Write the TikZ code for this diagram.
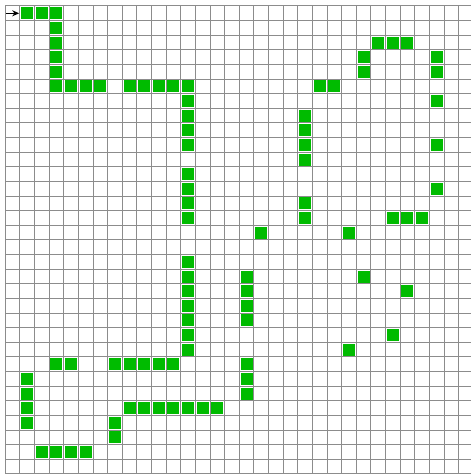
\documentclass[tikz,border=0pt]{standalone}
\usepackage{xcolor}
\usepackage{tikz}
\usetikzlibrary{arrows.meta}

\definecolor{gridgray}{RGB}{140,140,140}
\definecolor{cellgreen}{RGB}{0,187,0}

\begin{document}
\begin{tikzpicture}[
    x=14.625pt, y=-14.625pt,
    gridline/.style={gridgray, line width=1pt},
    cellfill/.style={fill=cellgreen},
    arrowstyle/.style={-{Stealth[length=7pt, width=6pt]}, line width=1.6pt, black}
]

\def\N{32}      % grid size (cells per side)
\def\g{0.09}    % inset of a filled cell

% page frame (same margins as the reference)
\useasboundingbox (-0.362,-0.41) rectangle (31.775,32.069);

% grid lines
\foreach \x in {0,...,\N} {
    \draw[gridline] (\x,0) -- (\x,\N);
}
\foreach \y in {0,...,\N} {
    \draw[gridline] (0,\y) -- (\N,\y);
}

% filled cells (column/row)
\foreach \c/\r in {1/0, 2/0, 3/0, 3/1, 3/2, 3/3, 3/4,
    25/2, 26/2, 27/2, 24/3, 29/3, 24/4, 29/4,
    3/5, 4/5, 5/5, 6/5, 8/5, 9/5, 10/5, 11/5, 12/5, 21/5, 22/5,
    12/6, 29/6, 12/7, 20/7, 12/8, 20/8, 12/9, 20/9, 29/9, 20/10,
    12/11, 12/12, 29/12, 12/13, 20/13, 12/14, 20/14, 26/14, 27/14, 28/14,
    17/15, 23/15,
    12/17, 12/18, 16/18, 24/18, 12/19, 16/19, 27/19, 12/20, 16/20,
    12/21, 16/21, 12/22, 26/22, 12/23, 23/23,
    3/24, 4/24, 7/24, 8/24, 9/24, 10/24, 11/24, 16/24,
    1/25, 16/25, 1/26, 16/26,
    1/27, 8/27, 9/27, 10/27, 11/27, 12/27, 13/27, 14/27,
    1/28, 7/28, 7/29,
    2/30, 3/30, 4/30, 5/30} {
    \fill[cellfill] (\c+\g,\r+\g) rectangle (\c+1-\g,\r+1-\g);
}

% entry arrow
\coordinate (start) at (0.05,0.5);
\coordinate (entry) at (0.95,0.5);
\draw[arrowstyle] (start) -- (entry);

\end{tikzpicture}
\end{document}
